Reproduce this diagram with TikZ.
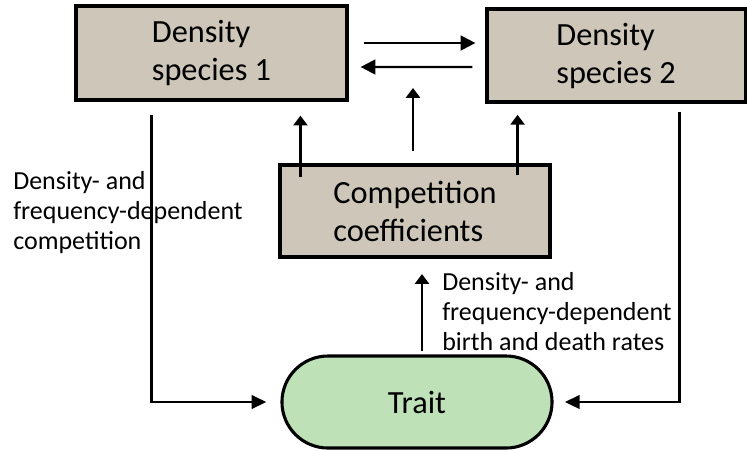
\documentclass[tikz,border=0pt]{standalone}
\usepackage{fontspec}
\setmainfont{Carlito}
\usetikzlibrary{arrows.meta}
\definecolor{boxfill}{RGB}{205,198,185}
\definecolor{traitfill}{RGB}{190,225,184}

\begin{document}
\begin{tikzpicture}[x=0.025cm,y=-0.025cm]
	\tikzstyle{box}=[rectangle,draw=black,line width=2.2pt,fill=boxfill,align=left,inner sep=0pt,font=\fontsize{23}{27}\selectfont]
	\tikzstyle{lab}=[align=left,inner sep=0pt,anchor=west,font=\fontsize{18.5}{21.3}\selectfont]
	\tikzstyle{edge}=[draw=black,line width=1.6pt,-{Triangle[length=7pt,width=10pt]}]
	\tikzstyle{side}=[draw=black,line width=2pt,-{Triangle[length=10.5pt,width=9.5pt]}]

	\useasboundingbox (0,0) rectangle (747,450);

	\node [box,minimum width=6.775cm,minimum height=2.35cm] (s1) at (211.5,53) {Density\\species 1};
	\node [box,minimum width=6.45cm,minimum height=2.325cm] (s2) at (616,55.5) {Density\\species 2};
	\node [box,minimum width=6.75cm,minimum height=2.3cm] (comp) at (415,211) {Competition\\coefficients};
	\node [box,fill=traitfill,rounded corners=1.15cm,minimum width=6.75cm,minimum height=2.3cm] (trait) at (417,402) {Trait};

	\node [lab] (lcomp) at (13,213) {Density- and\\frequency-dependent\\competition};
	\node [lab] (lrates) at (442,312) {Density- and\\frequency-dependent\\birth and death rates};

	\coordinate (pair) at (413,88);
	\coordinate (c1) at ([shift={(22,14)}]comp.north west);
	\coordinate (c2) at ([shift={(-34,12)}]comp.north east);
	\coordinate (b0) at ([shift={(5,-3)}]trait.north);

	% between the two densities
	\path[edge,line width=1.5pt,-{Triangle[length=10.5pt,width=10.5pt]}] ([shift={(15,-10)}]s1.east) -- ([shift={(-10,-12.5)}]s2.west);
	\path[edge,line width=1.5pt,-{Triangle[length=10.5pt,width=10.5pt]}] ([shift={(-13,11.5)}]s2.west) -- ([shift={(12,14)}]s1.east);

	% coefficients up
	\path[edge,shorten >=10pt] (c1) -- (c1 |- s1.south);
	\path[edge] ([shift={(-2,-12)}]comp.north) -- (pair);
	\path[edge,shorten >=8pt] (c2) -- (c2 |- s2.south);

	% densities down to the trait
	\path[side,shorten >=10pt] ([shift={(77,13)}]s1.south west) |- (trait.west);
	\path[side,shorten >=8pt] ([shift={(-67,8)}]s2.south east) |- (trait.east);

	% trait up
	\path[edge,shorten >=11pt] (b0) -- (b0 |- comp.south);
\end{tikzpicture}
\end{document}
